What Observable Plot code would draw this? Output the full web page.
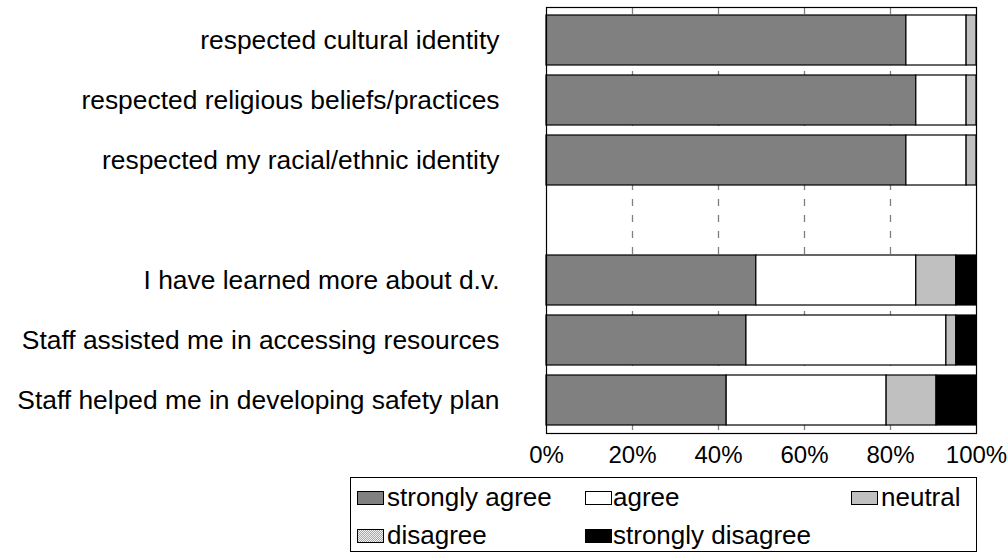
<!DOCTYPE html>
<html><head><meta charset="utf-8">
<script src="https://cdn.jsdelivr.net/npm/d3@7"></script>
<script src="https://cdn.jsdelivr.net/npm/@observablehq/plot@0.6"></script>
<style>
body{margin:0;background:#fff;font-family:'Liberation Sans',Arial,sans-serif;}
#wrap{position:relative;width:1007px;height:554px;overflow:hidden;}
#legend{position:absolute;left:350px;top:477px;width:627px;height:75px;box-sizing:border-box;border:1px solid #000;}
.item{position:absolute;font-size:26px;line-height:26px;white-space:nowrap;color:#000;}
.sw{position:absolute;width:27px;height:14px;box-sizing:border-box;border:1px solid #000;}
</style></head><body><div id="wrap"><div id="chart"></div><div id="legend"></div></div>
<script>
// Categories (the blank one is the empty separator row)
const questions = [
  "respected cultural identity",
  "respected religious beliefs/practices",
  "respected my racial/ethnic identity",
  " ",
  "I have learned more about d.v.",
  "Staff assisted me in accessing resources",
  "Staff helped me in developing safety plan"
];
const responses = ["strongly agree", "agree", "neutral", "disagree", "strongly disagree"];
// Series values (percent of respondents)
const stronglyAgree    = [83.7, 86.0, 83.7, null, 48.8, 46.5, 41.9];
const agree            = [14.0, 11.7, 14.0, null, 37.2, 46.5, 37.2];
const neutral          = [ 2.3,  2.3,  2.3, null,  9.3,  2.3, 11.6];
const disagree         = [ 0,    0,    0,   null,  0,    0,    0  ];
const stronglyDisagree = [ 0,    0,    0,   null,  4.7,  4.7,  9.3];
const colors = ["#808080", "#ffffff", "#c0c0c0", "#d9d9d9", "#000000"];
const xTicks = [0, 20, 40, 60, 80, 100];
const gridTicks = [20, 40, 60, 80];

const series = [stronglyAgree, agree, neutral, disagree, stronglyDisagree];
const data = [];
questions.forEach((q, i) => {
  responses.forEach((r, j) => {
    const v = series[j][i];
    if (v != null && v > 0) data.push({question: q, response: r, value: v});
  });
});

const chart = Plot.plot({
  width: 1007,
  height: 470,
  marginLeft: 546,
  marginRight: 31,
  marginTop: 7,
  marginBottom: 37,
  style: {fontFamily: "'Liberation Sans', Arial, sans-serif", fontSize: "26px", color: "#000", background: "#fff", overflow: "visible"},
  x: {domain: [0, 100]},
  y: {domain: questions, padding: 0},
  color: {domain: responses, range: colors},
  marks: [
    Plot.ruleX(gridTicks, {stroke: "#808080", strokeWidth: 1.3, strokeDasharray: "7,9"}),
    Plot.barX(data, Plot.stackX({x: "value", y: "question", fill: "response", order: responses, stroke: "#000", strokeWidth: 1.2, insetTop: 5, insetBottom: 5})),
    Plot.frame({stroke: "#000", strokeWidth: 1.2}),
    Plot.axisX(xTicks, {tickSize: 0, tickPadding: 12, fontSize: 24, tickFormat: d => d + "%", label: null}),
    Plot.axisY({tickSize: 0, tickPadding: 47, fontSize: 26.4, label: null})
  ]
});
document.getElementById("chart").appendChild(chart);

// Legend
const legend = document.getElementById("legend");
const legendPos = [
  {sx: 6, sy: 13, tx: 36, ty: 6},
  {sx: 234, sy: 13, tx: 262, ty: 6},
  {sx: 500, sy: 13, tx: 530, ty: 6},
  {sx: 6, sy: 51, tx: 36, ty: 44},
  {sx: 234, sy: 51, tx: 262, ty: 44}
];
responses.forEach((r, j) => {
  const p = legendPos[j];
  const sw = document.createElement("div");
  sw.className = "sw";
  sw.style.left = p.sx + "px";
  sw.style.top = p.sy + "px";
  if (r === "disagree") {
    sw.style.background = "repeating-conic-gradient(#a8a8a8 0 25%, #f0f0f0 0 50%) 0 0/2px 2px";
  } else {
    sw.style.background = colors[j];
  }
  legend.appendChild(sw);
  const t = document.createElement("div");
  t.className = "item";
  t.style.left = p.tx + "px";
  t.style.top = p.ty + "px";
  t.textContent = r;
  legend.appendChild(t);
});
</script></body></html>
